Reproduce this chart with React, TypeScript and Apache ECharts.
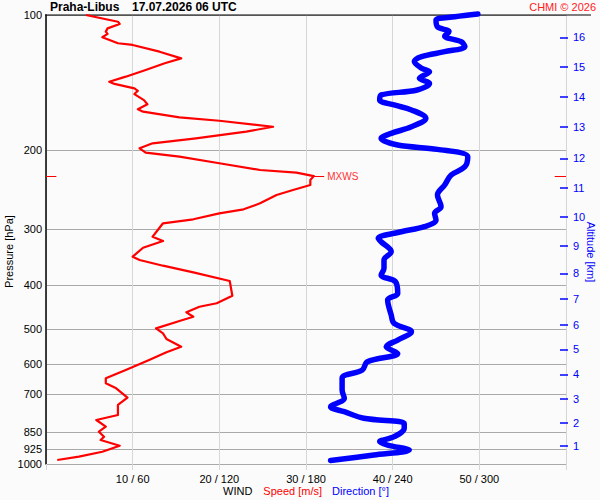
import React, { useEffect, useRef } from 'react';
import * as echarts from 'echarts';

const FONT = '"Liberation Sans", Arial, Helvetica, sans-serif';

const TITLE_STATION = 'Praha-Libus';
const TITLE_TIME = '17.07.2026 06 UTC';
const COPYRIGHT = 'CHMI © 2026';
const PRESSURE_NAME = 'Pressure [hPa]';
const ALTITUDE_NAME = 'Altitude [km]';

// Wind speed profile [m/s] vs pressure [hPa]
const SPEED_PRESSURE = [
  100, 103.5, 104.7, 107.1, 108.9, 110.2, 112.1, 115.6, 116.6, 120.7,
  124.9, 128.1, 132.6, 137.2, 140.8, 142.4, 145.7, 147.5, 150.0, 154.7,
  158.1, 162.2, 164.2, 169.0, 172.0, 177.4, 181.9, 188.2, 193.1, 198.1,
  202.6, 206.8, 213.9, 221.4, 224.5, 228.5, 233.1, 239.2, 245.4, 251.7,
  262.7, 270.9, 276.5, 285.1, 291.0, 301.2, 311.7, 318.7, 329.9, 345.4,
  351.3, 361.7, 374.2, 391.2, 422.0, 438.6, 446.4, 459.4, 469.9, 480.4,
  498.7, 511.6, 526.8, 548.1, 564.0, 586.8, 617.5, 644.4, 661.1, 678.3,
  711.6, 738.9, 777.8, 798.0, 825.9, 847.4, 869.4, 884.2, 910.4, 938.9,
  963.2, 979.7,
];
const SPEED = [
  4.6, 8.3, 8.5, 7.1, 6.9, 7.1, 6.5, 8.3, 10.0, 13.1,
  15.6, 13.7, 11.5, 9.2, 7.3, 7.9, 10.2, 10.6, 10.2, 11.3,
  11.7, 10.6, 11.2, 15.4, 20.0, 26.2, 23.1, 17.3, 12.3, 10.8,
  11.5, 15.4, 20.0, 24.7, 28.9, 30.9, 30.5, 30.5, 28.5, 26.6,
  24.7, 22.8, 20.0, 17.0, 13.5, 12.9, 12.3, 13.5, 11.2, 10.0,
  10.8, 13.5, 17.0, 21.2, 21.5, 19.7, 17.7, 16.2, 17.0, 15.4,
  12.7, 13.5, 13.9, 15.6, 13.9, 11.9, 9.2, 6.9, 6.9, 8.1,
  9.4, 8.3, 8.3, 5.8, 6.9, 6.1, 6.7, 6.3, 8.5, 6.5,
  3.8, 1.3,
];

// Wind direction profile [deg] vs pressure [hPa]
const DIR_PRESSURE = [
  99.5, 100.9, 102.6, 106.2, 108.9, 111.4, 114.7, 117.6, 120.7, 123.8,
  127.0, 131.4, 133.8, 138.4, 142.0, 146.9, 150.7, 154.7, 158.6, 162.7,
  169.9, 177.4, 183.5, 188.2, 194.8, 199.2, 206.8, 217.7, 227.2, 239.2,
  251.7, 267.3, 276.5, 286.1, 296.1, 303.9, 314.3, 319.9, 336.7, 351.3,
  366.6, 379.5, 392.6, 416.9, 431.4, 465.9, 486.0, 507.4, 529.5, 548.1,
  567.1, 592.0, 617.5, 644.4, 684.2, 714.0, 745.6, 764.8, 791.1, 812.0,
  832.6, 869.4, 891.9, 907.4, 930.8, 955.0, 982.0,
];
const DIRECTION = [
  299, 283, 270, 271, 279, 276, 287.5, 290, 276, 260,
  255, 260, 265.5, 258.5, 265.5, 257, 232, 231, 241, 253,
  263, 253, 239, 232, 243.5, 271, 292, 290, 280.5, 276,
  271, 273.5, 269, 270, 262, 246, 230, 232, 239, 234,
  234, 232, 242, 243.5, 236.5, 239, 241, 253, 243.5, 235.5,
  243.5, 222.5, 219, 205, 205, 206.5, 197, 206.5, 220, 248,
  248, 241, 231, 236.5, 251.5, 227, 197,
];

// Axis ticks
const PRESSURE_TICKS = [100, 200, 300, 400, 500, 600, 700, 850, 925, 1000];
const ALTITUDE_KM = [1, 2, 3, 4, 5, 6, 7, 8, 9, 10, 11, 12, 13, 14, 15, 16];
const ALTITUDE_PRESSURE = [
  912.0, 809.1, 716.6, 631.3, 555.7, 490.0, 428.3, 376.1,
  326.5, 281.4, 242.9, 208.5, 177.4, 152.0, 130.3, 112.1,
];
const SPEED_MAX = 60;
const SPEED_STEP = 10;

const lg = (p: number) => Math.log10(p);

export default function App() {
  const ref = useRef<HTMLDivElement>(null);

  useEffect(() => {
    if (!ref.current) return;
    document.body.style.margin = '0';
    const chart = echarts.init(ref.current, undefined, { renderer: 'svg' });

    const speedData = SPEED.map((s, i) => [s, lg(SPEED_PRESSURE[i])]);
    const dirData = DIRECTION.map((d, i) => [d, lg(DIR_PRESSURE[i])]);
    let maxI = 0;
    SPEED.forEach((s, i) => {
      if (s > SPEED[maxI]) maxI = i;
    });
    const mxS = SPEED[maxI];
    const mxY = lg(SPEED_PRESSURE[maxI]);

    const pTicks = PRESSURE_TICKS.map(lg);
    const altTicks = ALTITUDE_PRESSURE.map(lg);

    const option: any = {
      animation: false,
      backgroundColor: '#fbfbfb',
      textStyle: { fontFamily: FONT },
      grid: {
        left: 46,
        right: 34,
        top: 15,
        bottom: 36,
        containLabel: false,
        outerBoundsMode: 'none',
      },
      xAxis: [
        {
          type: 'value',
          min: 0,
          max: SPEED_MAX,
          interval: SPEED_STEP,
          position: 'bottom',
          axisLine: { show: false, onZero: false },
          axisTick: { show: true, length: 6, lineStyle: { color: '#d6d6d6', width: 1 } },
          splitLine: { show: true, lineStyle: { color: '#d6d6d6', width: 1 } },
          axisLabel: {
            margin: 9,
            fontSize: 11,
            color: '#000',
            fontFamily: FONT,
            formatter: (v: number) => (v <= 0 || v >= SPEED_MAX ? '' : `${v} / ${v * 6}`),
          },
          name: '{a|WIND}{b|Speed [m/s]}{c|Direction [°]}',
          nameLocation: 'middle',
          nameGap: 21,
          nameMoveOverlap: false,
          nameTextStyle: {
            fontFamily: FONT,
            rich: {
              a: { color: '#000', fontSize: 11, fontFamily: FONT },
              b: { color: '#ff0000', fontSize: 11, fontFamily: FONT, padding: [0, 10, 0, 11] },
              c: { color: '#0000ff', fontSize: 11, fontFamily: FONT },
            },
          },
        },
        {
          type: 'value',
          min: 0,
          max: SPEED_MAX * 6,
          show: false,
          axisLine: { onZero: false },
        },
      ],
      yAxis: [
        {
          type: 'value',
          min: 2,
          max: 3,
          inverse: true,
          position: 'left',
          axisLine: { show: true, onZero: false, lineStyle: { color: '#000', width: 1.5 } },
          axisTick: { show: false, customValues: pTicks },
          axisLabel: {
            customValues: pTicks,
            formatter: (v: number) => String(Math.round(Math.pow(10, v))),
            fontSize: 11,
            color: '#000',
            margin: 4,
            fontFamily: FONT,
          },
          splitLine: { show: true, lineStyle: { color: '#a9a9a9', width: 1 } },
        },
        {
          type: 'value',
          min: 2,
          max: 3,
          inverse: true,
          position: 'right',
          offset: 2,
          axisLine: { show: false, onZero: false },
          axisTick: {
            show: true,
            inside: true,
            length: 8,
            customValues: altTicks,
            lineStyle: { color: '#0000ff', width: 1.5 },
          },
          axisLabel: {
            customValues: altTicks,
            formatter: (v: number) => {
              const i = altTicks.findIndex((t) => Math.abs(t - v) < 1e-6);
              return i >= 0 ? String(ALTITUDE_KM[i]) : '';
            },
            fontSize: 11,
            color: '#0000ff',
            margin: 5,
            fontFamily: FONT,
          },
          splitLine: { show: false },
        },
      ],
      graphic: [
        {
          type: 'line',
          z: 1,
          silent: true,
          shape: { x1: 45, y1: 15, x2: 591, y2: 15 },
          style: { stroke: '#000', lineWidth: 1 },
        },
        {
          type: 'text',
          x: 50,
          y: 7,
          style: {
            text: TITLE_STATION,
            font: `bold 12px ${FONT}`,
            fill: '#000',
            textVerticalAlign: 'middle',
          },
        },
        {
          type: 'text',
          x: 132,
          y: 7,
          style: {
            text: TITLE_TIME,
            font: `bold 12px ${FONT}`,
            fill: '#000',
            textVerticalAlign: 'middle',
          },
        },
        {
          type: 'text',
          x: 596,
          y: 6.5,
          style: {
            text: COPYRIGHT,
            font: `11px ${FONT}`,
            fill: '#ff2020',
            textAlign: 'right',
            textVerticalAlign: 'middle',
          },
        },
        {
          type: 'text',
          x: 8.5,
          y: 251.5,
          rotation: Math.PI / 2,
          style: {
            text: PRESSURE_NAME,
            font: `11px ${FONT}`,
            fill: '#000',
            textAlign: 'center',
            textVerticalAlign: 'middle',
          },
        },
        {
          type: 'text',
          x: 590.5,
          y: 252,
          rotation: -Math.PI / 2,
          style: {
            text: ALTITUDE_NAME,
            font: `11px ${FONT}`,
            fill: '#0000ff',
            textAlign: 'center',
            textVerticalAlign: 'middle',
          },
        },
      ],
      series: [
        {
          type: 'line',
          name: 'Speed',
          xAxisIndex: 0,
          yAxisIndex: 0,
          data: speedData,
          showSymbol: false,
          symbol: 'none',
          clip: false,
          silent: true,
          lineStyle: { color: '#ff0000', width: 2.2, join: 'round' },
          itemStyle: { color: '#ff0000' },
          markLine: {
            silent: true,
            animation: false,
            symbol: ['none', 'none'],
            lineStyle: { color: '#ff0000', width: 1, type: 'solid' },
            label: { show: false },
            emphasis: { disabled: true },
            data: [
              [
                { coord: [mxS, mxY] },
                {
                  coord: [mxS + 1.2, mxY],
                  label: {
                    show: true,
                    position: 'end',
                    formatter: 'MXWS',
                    color: '#ff3333',
                    fontSize: 10,
                    distance: 3,
                    fontFamily: FONT,
                  },
                },
              ],
              [{ coord: [0, mxY] }, { coord: [1.2, mxY] }],
              [{ coord: [58.7, mxY] }, { coord: [SPEED_MAX, mxY] }],
            ],
          },
        },
        {
          type: 'line',
          name: 'Direction',
          xAxisIndex: 1,
          yAxisIndex: 0,
          data: dirData,
          showSymbol: false,
          symbol: 'none',
          smooth: 0.35,
          clip: false,
          silent: true,
          lineStyle: { color: '#0000ff', width: 5.5, cap: 'round', join: 'round' },
          itemStyle: { color: '#0000ff' },
        },
      ],
    };

    chart.setOption(option);
    return () => chart.dispose();
  }, []);

  return (
    <div
      ref={ref}
      style={{ position: 'absolute', left: 0, top: 0, width: 600, height: 500 }}
    />
  );
}
